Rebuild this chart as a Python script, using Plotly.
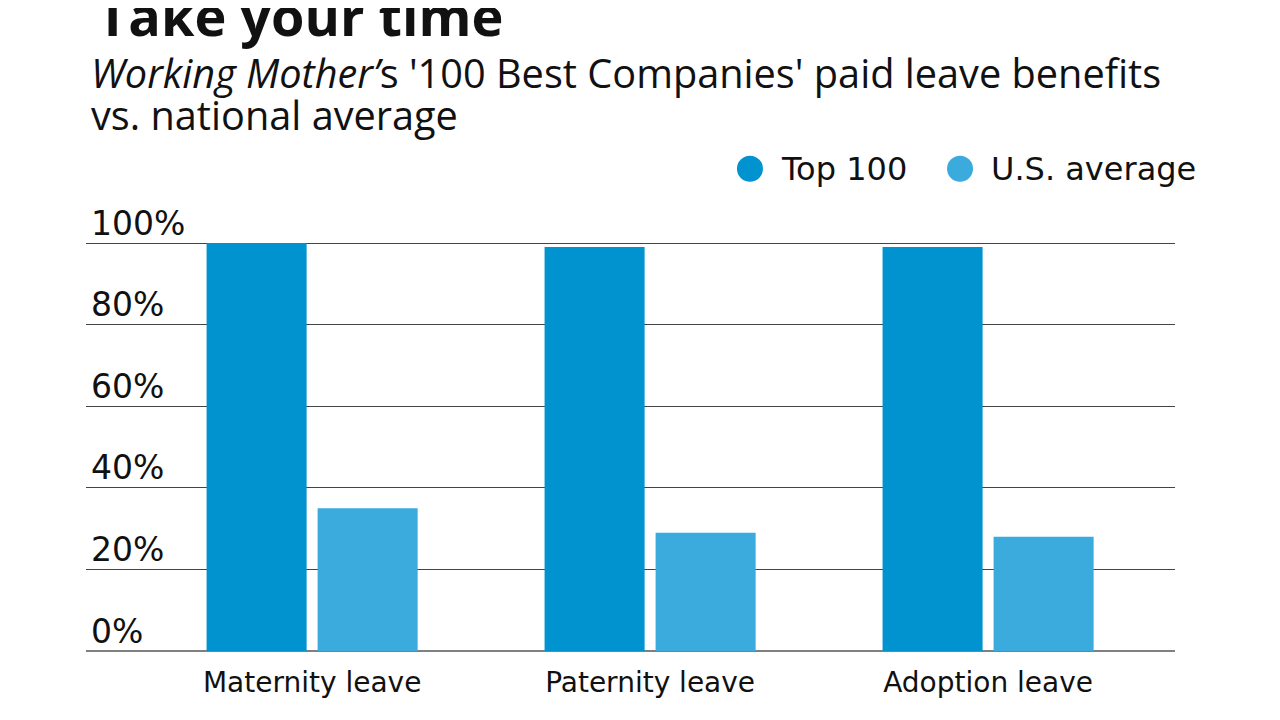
import plotly.graph_objects as go

categories = ["Maternity leave", "Paternity leave", "Adoption leave"]
top100 = [100, 99, 99]
us_avg = [35, 29, 28]
series_names = ["Top 100", "U.S. average"]
series_colors = ["#0093d0", "#3babdd"]
y_ticks = [0, 20, 40, 60, 80, 100]
y_tick_labels = ["0%", "20%", "40%", "60%", "80%", "100%"]
subtitle_lines = ["<i>Working Mother’</i>s '100 Best Companies' paid leave benefits",
                  "vs. national average"]

FONT = "DejaVu Sans"
TITLE_FONT = "Open Sans"

fig = go.Figure()
for name, vals, col in zip(series_names, [top100, us_avg], series_colors):
    fig.add_trace(go.Bar(x=categories, y=vals, name=name, marker_color=col,
                         marker_line_width=0, showlegend=False))

# legend drawn as circles + labels
legend_x = [0.6097, 0.8026]
for name, col, lx in zip(series_names, series_colors, legend_x):
    fig.add_shape(type="circle", xref="paper", yref="paper",
                  xsizemode="pixel", ysizemode="pixel",
                  xanchor=lx, yanchor=1.179, x0=-13, x1=13, y0=-13, y1=13,
                  fillcolor=col, line_width=0)
    fig.add_annotation(text=name, xref="paper", yref="paper", x=lx, y=1.179,
                       xshift=29, xanchor="left", yanchor="middle", showarrow=False,
                       font=dict(family=FONT, size=32, color="#111"))

for line, yp in zip(subtitle_lines, [1.4843, 1.3816]):
    fig.add_annotation(
        text=line, xref="paper", yref="paper", x=0.003, y=yp,
        xanchor="left", yanchor="top", align="left", showarrow=False,
        font=dict(family=TITLE_FONT, size=39.7, color="#111"))

fig.update_layout(
    width=1272, height=712,
    margin=dict(l=78, r=105, t=234, b=69),
    paper_bgcolor="white", plot_bgcolor="white",
    title=dict(text="<b>Take your time</b>", x=0.07, xanchor="left",
               y=0.9867, yanchor="middle", yref="container",
               font=dict(family=TITLE_FONT, size=54, color="#111")),
    barmode="group", bargap=0.343, bargroupgap=0.099,
    xaxis=dict(range=[-0.669, 2.553], showgrid=False, showline=False, ticks="",
               tickfont=dict(family=FONT, size=28, color="#111"),
               ticklabelstandoff=12),
    yaxis=dict(range=[0, 100.25], tickvals=y_ticks, ticktext=y_tick_labels,
               showgrid=True, gridcolor="#444", gridwidth=1,
               zeroline=True, zerolinecolor="#808080", zerolinewidth=2,
               showline=False, ticks="",
               ticklabelposition="inside", ticklabelshift=-20, ticklabelstandoff=2,
               ticklabeloverflow="allow",
               tickfont=dict(family=FONT, size=33, color="#111")),
)

fig.write_html("out.html")
